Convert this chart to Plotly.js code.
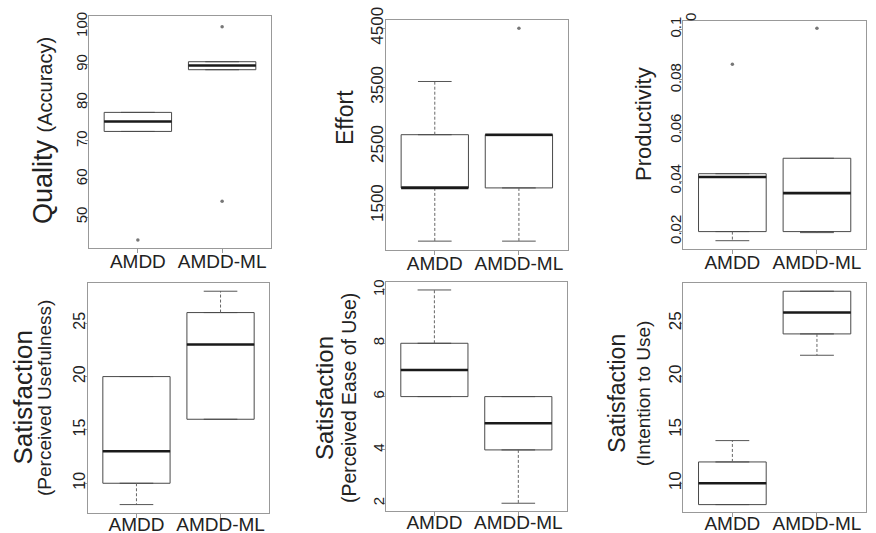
<!DOCTYPE html>
<html>
<head>
<meta charset="utf-8">
<script src="https://cdn.plot.ly/plotly-3.0.1.min.js"></script>
<style>html,body{margin:0;padding:0;background:#fff;}#chart{width:876px;height:533px;}</style>
</head>
<body>
<div id="chart"></div>
<script>
// ---------- data ----------
const groupLabels = ["AMDD", "AMDD-ML"];

const qualityLow = [72.5, 88.7];
const qualityQ1 = [72.5, 88.7];
const qualityMedian = [75.1, 89.8];
const qualityQ3 = [77.5, 90.8];
const qualityHigh = [77.5, 90.8];
const qualityOutAMDD = [44];
const qualityOutML = [100, 54.2];
const qualityTicks = [50, 60, 70, 80, 90, 100];

const effortLow = [900, 900];
const effortQ1 = [1800, 1800];
const effortMedian = [1800, 2700];
const effortQ3 = [2700, 2700];
const effortHigh = [3600, 2700];
const effortOutAMDD = [];
const effortOutML = [4500];
const effortTicks = [1500, 2500, 3500, 4500];

const prodLow = [0.0164, 0.0196];
const prodQ1 = [0.02, 0.02];
const prodMedian = [0.0416, 0.0352];
const prodQ3 = [0.0429, 0.049];
const prodHigh = [0.0429, 0.049];
const prodOutAMDD = [0.0862];
const prodOutML = [0.1004];
const prodTicks = [0.02, 0.04, 0.06, 0.08, 0.1];

const usefulLow = [8, 16];
const usefulQ1 = [10, 16];
const usefulMedian = [13, 23];
const usefulQ3 = [20, 26];
const usefulHigh = [20, 28];
const usefulTicks = [10, 15, 20, 25];

const easeLow = [6, 2];
const easeQ1 = [6, 4];
const easeMedian = [7, 5];
const easeQ3 = [8, 6];
const easeHigh = [10, 6];
const easeTicks = [2, 4, 6, 8, 10];

const intentLow = [8, 22];
const intentQ1 = [8, 24];
const intentMedian = [10, 26];
const intentQ3 = [12, 28];
const intentHigh = [14, 28];
const intentTicks = [10, 15, 20, 25];

// ---------- layout helpers ----------
const W = 876, H = 533;
const BOXW = 0.8, CAPW = 0.4;
const pos = groupLabels.map((g, i) => i + 1);

function panelTraces(ax, low, q1, med, q3, high, outA, outB) {
  const xa = 'x' + ax, ya = 'y' + ax;
  const traces = [];
  traces.push({
    type: 'box', x: pos, q1: q1, median: med, q3: q3,
    lowerfence: q1, upperfence: q3, width: BOXW,
    fillcolor: 'rgba(255,255,255,0)', line: {color: '#4a4a4a', width: 1},
    boxpoints: false, xaxis: xa, yaxis: ya, showlegend: false, hoverinfo: 'skip'
  });
  // whiskers (dashed)
  const wx = [], wy = [];
  pos.forEach((p, i) => { wx.push(p, p, null, p, p, null); wy.push(q3[i], high[i], null, q1[i], low[i], null); });
  traces.push({type: 'scatter', mode: 'lines', x: wx, y: wy, line: {color: '#666', width: 1, dash: '3px,2px'},
    xaxis: xa, yaxis: ya, showlegend: false, hoverinfo: 'skip'});
  // caps
  const cx = [], cy = [];
  pos.forEach((p, i) => {
    if (high[i] !== q3[i]) { cx.push(p - CAPW / 2, p + CAPW / 2, null); cy.push(high[i], high[i], null); }
    if (low[i] !== q1[i]) { cx.push(p - CAPW / 2, p + CAPW / 2, null); cy.push(low[i], low[i], null); }
  });
  traces.push({type: 'scatter', mode: 'lines', x: cx, y: cy, line: {color: '#555', width: 1},
    xaxis: xa, yaxis: ya, showlegend: false, hoverinfo: 'skip'});
  // medians
  const mx = [], my = [];
  pos.forEach((p, i) => { mx.push(p - BOXW / 2, p + BOXW / 2, null); my.push(med[i], med[i], null); });
  traces.push({type: 'scatter', mode: 'lines', x: mx, y: my, line: {color: '#1a1a1a', width: 2.6},
    xaxis: xa, yaxis: ya, showlegend: false, hoverinfo: 'skip'});
  // outliers
  const ox = [], oy = [];
  (outA || []).forEach(v => { ox.push(pos[0]); oy.push(v); });
  (outB || []).forEach(v => { ox.push(pos[1]); oy.push(v); });
  traces.push({type: 'scatter', mode: 'markers', x: ox, y: oy, marker: {color: '#777', size: 3.5},
    xaxis: xa, yaxis: ya, showlegend: false, hoverinfo: 'skip'});
  return traces;
}

const data = [].concat(
  panelTraces('', qualityLow, qualityQ1, qualityMedian, qualityQ3, qualityHigh, qualityOutAMDD, qualityOutML),
  panelTraces('2', effortLow, effortQ1, effortMedian, effortQ3, effortHigh, effortOutAMDD, effortOutML),
  panelTraces('3', prodLow, prodQ1, prodMedian, prodQ3, prodHigh, prodOutAMDD, prodOutML),
  panelTraces('4', usefulLow, usefulQ1, usefulMedian, usefulQ3, usefulHigh, [], []),
  panelTraces('5', easeLow, easeQ1, easeMedian, easeQ3, easeHigh, [], []),
  panelTraces('6', intentLow, intentQ1, intentMedian, intentQ3, intentHigh, [], [])
);

// panel frames in pixels: [left, right, top, bottom]
const frames = [
  [89, 271, 16, 248],
  [386, 567.7, 20, 250],
  [683.3, 866, 20.7, 249.3],
  [87.7, 269.3, 282.7, 512.7],
  [385.7, 567, 281.7, 510.7],
  [683.3, 866, 282.7, 512.3]
];
const yRanges = [[41.9, 102.8], [750, 4640], [0.013, 0.1034], [7.24, 28.8], [1.72, 10.31], [7.28, 28.8]];
const yTickSets = [qualityTicks, effortTicks, prodTicks, usefulTicks, easeTicks, intentTicks];
const yTickSize = [15, 17, 15, 16, 15, 17];

const FONT = '"Liberation Sans", Arial, sans-serif';
const layout = {
  width: W, height: H, margin: {l: 0, r: 0, t: 0, b: 0},
  paper_bgcolor: '#fff', plot_bgcolor: '#fff',
  font: {family: FONT, color: '#222'},
  showlegend: false, annotations: []
};

frames.forEach((f, i) => {
  const s = i === 0 ? '' : String(i + 1);
  layout['xaxis' + s] = {
    domain: [f[0] / W, f[1] / W], anchor: 'y' + s, range: [0.42, 2.58],
    tickvals: pos, ticktext: groupLabels, tickfont: {size: 19, color: '#222', family: FONT},
    ticks: 'outside', ticklen: 4, tickcolor: '#999', ticklabelstandoff: i < 3 ? -8 : -10,
    showline: true, mirror: true, linecolor: '#999', linewidth: 1,
    showgrid: false, zeroline: false, fixedrange: true
  };
  layout['yaxis' + s] = {
    domain: [1 - f[3] / H, 1 - f[2] / H], anchor: 'x' + s, range: yRanges[i],
    tickvals: yTickSets[i], tickangle: -90, tickfont: {size: yTickSize[i], color: '#222', family: FONT},
    ticks: 'outside', ticklen: 3, tickcolor: '#999', ticklabelstandoff: -8,
    showline: true, mirror: true, linecolor: '#999', linewidth: 1,
    showgrid: false, zeroline: false, fixedrange: true
  };
});

function ann(text, px, py, size) {
  layout.annotations.push({
    text: text, x: px / W, y: 1 - py / H, xref: 'paper', yref: 'paper',
    xanchor: 'center', yanchor: 'middle', textangle: -90, showarrow: false,
    font: {size: size, color: '#222', family: FONT}
  });
}
ann('Quality <span style="font-size:20px">(Accuracy)</span>', 43, 131, 27);
ann('Effort', 345, 118, 23);
ann('Productivity', 643, 124, 22);
ann('0', 690, 17, 15);
ann('Satisfaction', 22.5, 398, 26);
ann('(Perceived Usefulness)', 44, 398, 19);
ann('Satisfaction', 324, 398, 24);
ann('(Perceived Ease of Use)', 349, 398, 19.4);
ann('Satisfaction', 616.7, 393, 23);
ann('(Intention to Use)', 643.3, 393, 19);

Plotly.newPlot('chart', data, layout, {staticPlot: true, displayModeBar: false});
</script>
</body>
</html>
